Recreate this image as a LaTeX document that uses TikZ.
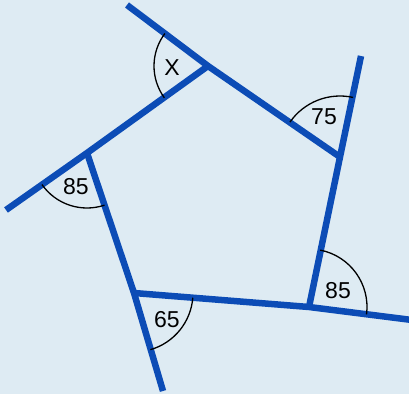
\documentclass[tikz,border=0pt]{standalone}
\usepackage{fontspec}
\setmainfont{Liberation Sans}
\definecolor{bgblue}{RGB}{222,235,243}
\definecolor{sideblue}{RGB}{12,76,182}

\begin{document}
\begin{tikzpicture}[
  x=1pt, y=1pt,
  side/.style={draw=sideblue, line width=6.5pt, line cap=butt},
  angarc/.style={draw=black, line width=1.3pt},
  lbl/.style={font=\fontsize{23}{23}\selectfont, inner sep=0pt}
]
\fill[bgblue] (0,0) rectangle (409,394);
\useasboundingbox (0,0) rectangle (409,394);

% corners of the pentagon
\coordinate (A) at (208,328);
\coordinate (B) at (340,237);
\coordinate (C) at (309,87);
\coordinate (D) at (134,101);
\coordinate (E) at (87,241);
% free ends of the extended sides
\coordinate (Aend) at (127,389);
\coordinate (Bend) at (361,338);
\coordinate (Cend) at (412,74);
\coordinate (Dend) at (163,3);
\coordinate (Eend) at (6,184);

\draw[side] (Aend) -- (A) -- (B);
\draw[side] (Bend) -- (B) -- (C);
\draw[side] (Cend) -- (C) -- (D);
\draw[side] (Dend) -- (D) -- (E);
\draw[side] (Eend) -- (E) -- (A);

% angle marks
\draw[angarc] ([shift={(143:54)}]A) arc[start angle=143, end angle=216, radius=54];
\draw[angarc] ([shift={(77.6:61)}]B) arc[start angle=77.6, end angle=145.2, radius=61];
\draw[angarc] ([shift={(-7.4:58)}]C) arc[start angle=-7.4, end angle=78.8, radius=58];
\draw[angarc] ([shift={(-73.9:59)}]D) arc[start angle=-73.9, end angle=-4.6, radius=59];
\draw[angarc] ([shift={(215:55)}]E) arc[start angle=215, end angle=288.6, radius=55];

\node[lbl] (lblA) at (172,326) {X};
\node[lbl] (lblB) at (324,277) {75};
\node[lbl] (lblC) at (338,103) {85};
\node[lbl] (lblD) at (167,74) {65};
\node[lbl] (lblE) at (76,207) {85};

\end{tikzpicture}
\end{document}
